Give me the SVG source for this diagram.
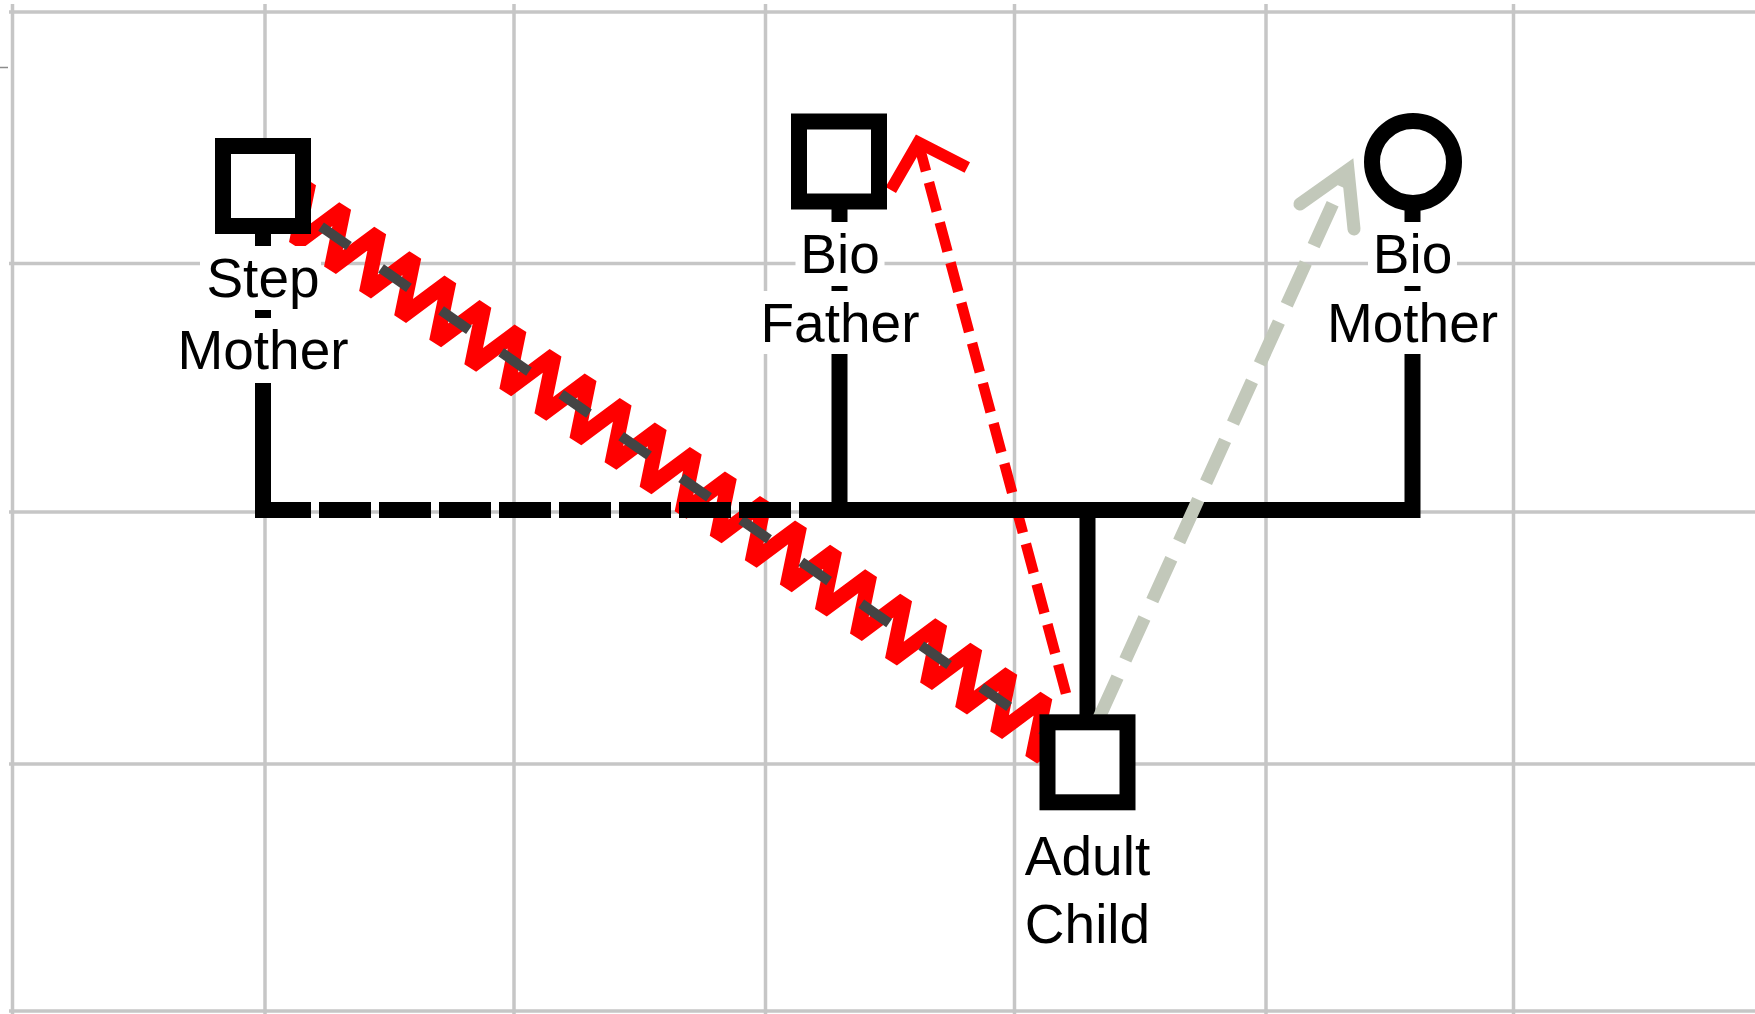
<svg xmlns="http://www.w3.org/2000/svg" width="1755" height="1014" viewBox="0 0 1755 1014">
<style>
.grid{stroke:#c6c6c6;stroke-width:3.5;fill:none}
.fam{stroke:#000;stroke-width:16;fill:none;stroke-linejoin:miter}
.node{fill:#fff;stroke:#000;stroke-width:16}
.lbl{font-family:"Liberation Sans",Arial,sans-serif;font-size:55px;fill:#000;text-anchor:middle}
.bg{fill:#fff}
</style>
<rect width="1755" height="1014" fill="#fff"/>
<g id="grid" class="grid">
<path d="M12.5,4V1014 M265,4V1014 M514,4V1014 M765.5,4V1014 M1014.5,4V1014 M1266,4V1014 M1513.5,4V1014 M9,12H1755 M9,263.5H1755 M9,512H1755 M9,764H1755 M9,1011H1755"/>
</g>
<line x1="0" y1="67.5" x2="8" y2="67.5" stroke="#8c8c8c" stroke-width="1.5"/>
<g id="connectors">
  <g id="rel-stepmother-child" transform="translate(263 186) rotate(34.92)">
    <polyline fill="none" stroke="#ff0000" stroke-width="15" stroke-linejoin="bevel" points="-6.62,-28 17.48,28 36.14,-28 60.24,28 78.9,-28 103,28 121.66,-28 145.76,28 164.42,-28 188.52,28 207.18,-28 231.28,28 249.94,-28 274.04,28 292.7,-28 316.8,28 335.46,-28 359.56,28 378.22,-28 402.32,28 420.98,-28 445.08,28 463.74,-28 487.84,28 506.5,-28 530.6,28 549.26,-28 573.36,28 592.02,-28 616.12,28 634.78,-28 658.88,28 677.54,-28 701.64,28 720.3,-28 744.4,28 763.06,-28 787.16,28 805.82,-28 829.92,28 848.58,-28 872.68,28 891.34,-28 915.44,28 934.1,-28 958.2,28 976.86,-28 1000.96,28 1019.62,-28"/>
    <line x1="0" y1="0" x2="1006" y2="0" stroke="#444444" stroke-width="10" stroke-dasharray="34 39.2" stroke-dashoffset="2.4"/>
  </g>
  <g id="rel-child-biofather" fill="none" stroke="#ff0000">
    <path d="M1068.9,704.4 L918.3,142.5" stroke-width="10.5" stroke-dasharray="30 11.6" stroke-dashoffset="30.3"/>
    <path d="M890.8,190.1 L918.3,142.5 L967.3,167.5" stroke-width="12" stroke-linejoin="miter"/>
  </g>
  <g id="family-lines">
    <path class="fam" d="M263,226V518"/>
    <path class="fam" d="M259,510H799" stroke-dasharray="52 8"/>
    <path class="fam" d="M839.5,201V510"/>
    <path class="fam" d="M799,510H1412.5V203"/>
    <path class="fam" d="M1087.5,510V722"/>
  </g>
  <g id="rel-child-biomother" fill="none" stroke="#c2c8ba">
    <path d="M1098.5,719 L1348,170" stroke-width="13" stroke-dasharray="46 19"/>
    <path d="M1300,204 L1348,170 L1354,229" stroke-width="13" stroke-linecap="round" stroke-linejoin="miter"/>
  </g>
</g>
<g id="step-mother">
  <rect class="node" x="223" y="146" width="80" height="80"/>
  <rect class="bg" x="200" y="246" width="121" height="64"/>
  <rect class="bg" x="172.5" y="318" width="181" height="65"/>
  <text class="lbl" x="263" y="297">Step</text>
  <text class="lbl" x="263" y="369">Mother</text>
</g>
<g id="bio-father">
  <rect class="node" x="799" y="121.5" width="80" height="80"/>
  <rect class="bg" x="795.5" y="222" width="89" height="64"/>
  <rect class="bg" x="755.5" y="291" width="169" height="63"/>
  <text class="lbl" x="840" y="273">Bio</text>
  <text class="lbl" x="840" y="342">Father</text>
</g>
<g id="bio-mother">
  <circle class="node" cx="1413" cy="162" r="41" stroke-width="16.5"/>
  <rect class="bg" x="1368" y="222" width="89" height="64"/>
  <rect class="bg" x="1322" y="291" width="181" height="63"/>
  <text class="lbl" x="1412.5" y="273">Bio</text>
  <text class="lbl" x="1412.5" y="342">Mother</text>
</g>
<g id="adult-child">
  <rect class="node" x="1047.5" y="722.3" width="80" height="80"/>
  <text class="lbl" x="1087.5" y="874.5">Adult</text>
  <text class="lbl" x="1087.5" y="942.7">Child</text>
</g>
</svg>
